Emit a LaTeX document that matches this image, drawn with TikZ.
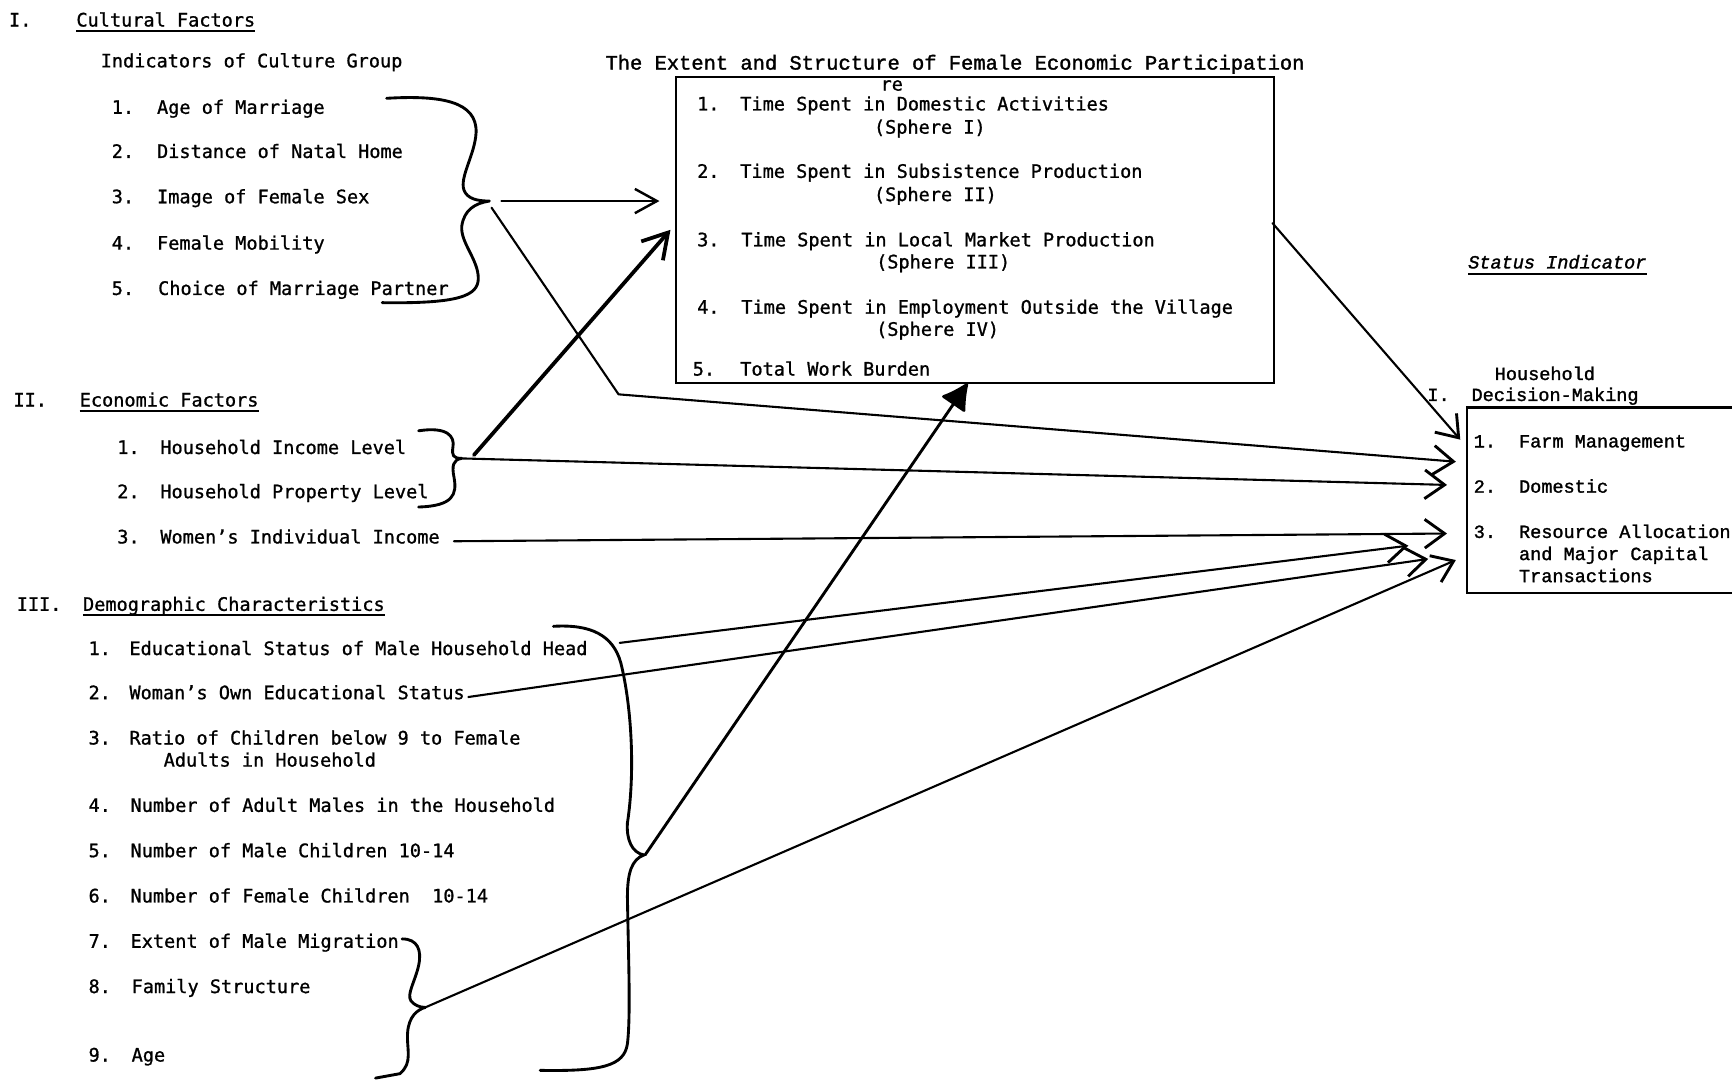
\documentclass[tikz,border=0pt]{standalone}
\usepackage{fontspec}
\newfontfamily\tw[FakeBold=1]{DejaVu Sans Mono}
\newfontfamily\cour[FakeBold=1.5]{Liberation Mono}
\usetikzlibrary{arrows.meta,calc}
\begin{document}
\begin{tikzpicture}[x=1pt,y=-1pt,
  tx/.style={anchor=base west,inner sep=0pt,font=\tw\fontsize{16.8}{18}\selectfont},
  cx/.style={anchor=base west,inner sep=0pt,font=\cour\fontsize{16.8}{18}\selectfont},
  ttl/.style={anchor=base west,inner sep=0pt,font=\cour\fontsize{18.5}{20}\selectfont},
  ln/.style={line width=1.9pt,line cap=round,line join=round},
  brc/.style={line width=2.6pt,line cap=round,line join=round},
  boxst/.style={draw,line width=1.9pt,inner sep=0pt,anchor=north west},
  ul/.style={line width=1.6pt},
  barb/.style={-{Straight Barb[length=18pt,width=26pt,line width=2.6pt]}},
  smallbarb/.style={-{Straight Barb[length=20pt,width=22pt,line width=2.2pt]}},
  thickbarb/.style={-{Straight Barb[length=22pt,width=26pt,line width=3.4pt]}},
  fat/.style={-{Latex[round,length=26pt,width=28pt]}}
]
\useasboundingbox (0,0) rectangle (1568,978);
\fill[white] (0,0) rectangle (1568,978);

% ---------- Section I ----------
\node[tx] (s1) at (8,24) {I.};
\node[tx] (cf) at (69,24) {Cultural Factors};
\draw[ul] ($(cf.base west)+(0,4)$) -- ($(cf.base east)+(0,4)$);
\node[tx] (icg) at (91,61) {Indicators of Culture Group};
\node[tx] (a1n) at (101,103) {1.}; \node[tx] (a1) at (142,103) {Age of Marriage};
\node[tx] (a2n) at (101,143) {2.}; \node[tx] (a2) at (142,143) {Distance of Natal Home};
\node[tx] (a3n) at (101,184) {3.}; \node[tx] (a3) at (142,184) {Image of Female Sex};
\node[tx] (a4n) at (101,226) {4.}; \node[tx] (a4) at (142,226) {Female Mobility};
\node[tx] (a5n) at (101,267) {5.}; \node[tx] (a5) at (143,267) {Choice of Marriage Partner};

\draw[brc] (350,89) .. controls (400,86) and (432,92) .. (431,120)
  .. controls (430,140) and (416,160) .. (420,172)
  .. controls (423,180) and (432,182) .. (443,182)
  .. controls (430,184) and (420,190) .. (418,205)
  .. controls (417,220) and (433,235) .. (433,252)
  .. controls (433,268) and (415,275) .. (346,274);
\coordinate (tipI) at (454,182);
\coordinate (tipIb) at (445,188);
\coordinate (bend) at (560,357);

% ---------- Central box ----------
\node[ttl] (title) at (548,63) {The Extent and Structure of Female Economic Participation};
\node[tx] (re) at (797,82) {re};
\node[boxst,minimum width=541pt,minimum height=277pt] (cbox) at (611,69) {};
\node[tx] (b1n) at (631,100) {1.}; \node[tx] (b1) at (670,100) {Time Spent in Domestic Activities};
\node[tx] (b1s) at (791,121) {(Sphere I)};
\node[tx] (b2n) at (631,161) {2.}; \node[tx] (b2) at (670,161) {Time Spent in Subsistence Production};
\node[tx] (b2s) at (791,182) {(Sphere II)};
\node[tx] (b3n) at (631,223) {3.}; \node[tx] (b3) at (671,223) {Time Spent in Local Market Production};
\node[tx] (b3s) at (793,243) {(Sphere III)};
\node[tx] (b4n) at (631,284) {4.}; \node[tx] (b4) at (671,284) {Time Spent in Employment Outside the Village};
\node[tx] (b4s) at (793,304) {(Sphere IV)};
\node[tx] (b5n) at (627,340) {5.}; \node[tx] (b5) at (670,340) {Total Work Burden};
\coordinate (inA) at (597,182);
\coordinate (inB) at (607,208);
\coordinate (inC) at (876,347);
\coordinate (outR) at (1152,202);

% ---------- Section II ----------
\node[tx] (s2) at (12,368) {II.};
\node[tx] (ef) at (72,368) {Economic Factors};
\draw[ul] ($(ef.base west)+(0,4)$) -- ($(ef.base east)+(0,4)$);
\node[tx] (e1n) at (106,411) {1.}; \node[tx] (e1) at (145,411) {Household Income Level};
\node[tx] (e2n) at (106,451) {2.}; \node[tx] (e2) at (145,451) {Household Property Level};
\node[tx] (e3n) at (106,492) {3.}; \node[tx] (e3) at (145,492) {Women’s Individual Income};

\draw[brc] (379,390) .. controls (405,386) and (412,395) .. (410,405)
  .. controls (409,412) and (410,415) .. (418,415)
  .. controls (410,416) and (409,422) .. (411,432)
  .. controls (414,448) and (410,458) .. (379,459);
\coordinate (tipII) at (418,415);
\coordinate (tipIIb) at (429,412);
\coordinate (wi) at (411,490);

% ---------- Section III ----------
\node[tx] (s3) at (15,553) {III.};
\node[tx] (dc) at (75,553) {Demographic Characteristics};
\draw[ul] ($(dc.base west)+(0,4)$) -- ($(dc.base east)+(0,4)$);
\node[tx] (d1n) at (80,593) {1.}; \node[tx] (d1) at (117,593) {Educational Status of Male Household Head};
\node[tx] (d2n) at (80,633) {2.}; \node[tx] (d2) at (117,633) {Woman’s Own Educational Status};
\node[tx] (d3n) at (80,674) {3.}; \node[tx] (d3) at (117,674) {Ratio of Children below 9 to Female};
\node[tx] (d3b) at (148,694) {Adults in Household};
\node[tx] (d4n) at (80,735) {4.}; \node[tx] (d4) at (118,735) {Number of Adult Males in the Household};
\node[tx] (d5n) at (80,776) {5.}; \node[tx] (d5) at (118,776) {Number of Male Children 10-14};
\node[tx] (d6n) at (80,817) {6.}; \node[tx] (d6) at (118,817) {Number of Female Children\ \ 10-14};
\node[tx] (d7n) at (80,858) {7.}; \node[tx] (d7) at (118,858) {Extent of Male Migration};
\node[tx] (d8n) at (80,899) {8.}; \node[tx] (d8) at (119,899) {Family Structure};
\node[tx] (d9n) at (80,961) {9.}; \node[tx] (d9) at (119,961) {Age};

\draw[brc] (501,567) .. controls (535,565) and (555,575) .. (562,600)
  .. controls (572,640) and (575,700) .. (568,745)
  .. controls (567,760) and (572,772) .. (583,774)
  .. controls (572,778) and (568,790) .. (568,812)
  .. controls (569,870) and (571,920) .. (568,945)
  .. controls (565,965) and (545,970) .. (489,969);
\draw[brc] (364,850) .. controls (378,850) and (382,860) .. (379,874)
  .. controls (376,888) and (368,900) .. (372,906)
  .. controls (375,910) and (380,912) .. (385,912)
  .. controls (378,914) and (370,920) .. (369,935)
  .. controls (368,950) and (374,962) .. (362,972) -- (340,976);
\coordinate (tipIII) at (584,774);
\coordinate (tipsm) at (385,912);
\coordinate (eh) at (561,582);
\coordinate (we) at (424,631);

% ---------- Right side ----------
\node[cx,font=\cour\itshape\fontsize{16.8}{18}\selectfont] (si) at (1329,243) {Status Indicator};
\draw[ul] ($(si.base west)+(0,5)$) -- ($(si.base east)+(0,5)$);
\node[cx] (hh) at (1353,344) {Household};
\node[cx] (hI) at (1292,363) {I.};
\node[cx] (hdm) at (1332,363) {Decision-Making};
\node[boxst,minimum width=300pt,minimum height=168pt] (rbox) at (1327,368) {};
\node[cx] (r1n) at (1334,405) {1.}; \node[cx] (r1) at (1375,405) {Farm Management};
\node[cx] (r2n) at (1334,446) {2.}; \node[cx] (r2) at (1375,446) {Domestic};
\node[cx] (r3n) at (1334,487) {3.}; \node[cx] (r3) at (1375,487) {Resource Allocation};
\node[cx] (r3b) at (1375,507) {and Major Capital};
\node[cx] (r3c) at (1375,527) {Transactions};
\coordinate (rFarmTop) at (1322,398);
\coordinate (rFarm) at (1318,418);
\coordinate (rDom) at (1310,439);
\coordinate (rRes) at (1310,483);
\coordinate (rEh) at (1275,494);
\coordinate (rWe) at (1293,506);
\coordinate (rSm) at (1318,507);

% ---------- Connectors ----------
\draw[ln,smallbarb] (tipI) -- (inA);
\draw[ln,barb] (tipIb) -- (bend) -- (rFarm);
\draw[line width=3.4pt,line cap=round,thickbarb] (tipIIb) -- (inB);
\draw[ln,barb] (tipII) -- (rDom);
\draw[ln,barb] (wi) -- (rRes);
\draw[ln,barb] (eh) -- (rEh);
\draw[ln,barb] (we) -- (rWe);
\draw[ln,barb] (tipsm) -- (rSm);
\draw[line width=2.6pt,line cap=round,fat] (tipIII) -- (inC);
\draw[ln,barb] (outR) -- (rFarmTop);
\end{tikzpicture}
\end{document}
